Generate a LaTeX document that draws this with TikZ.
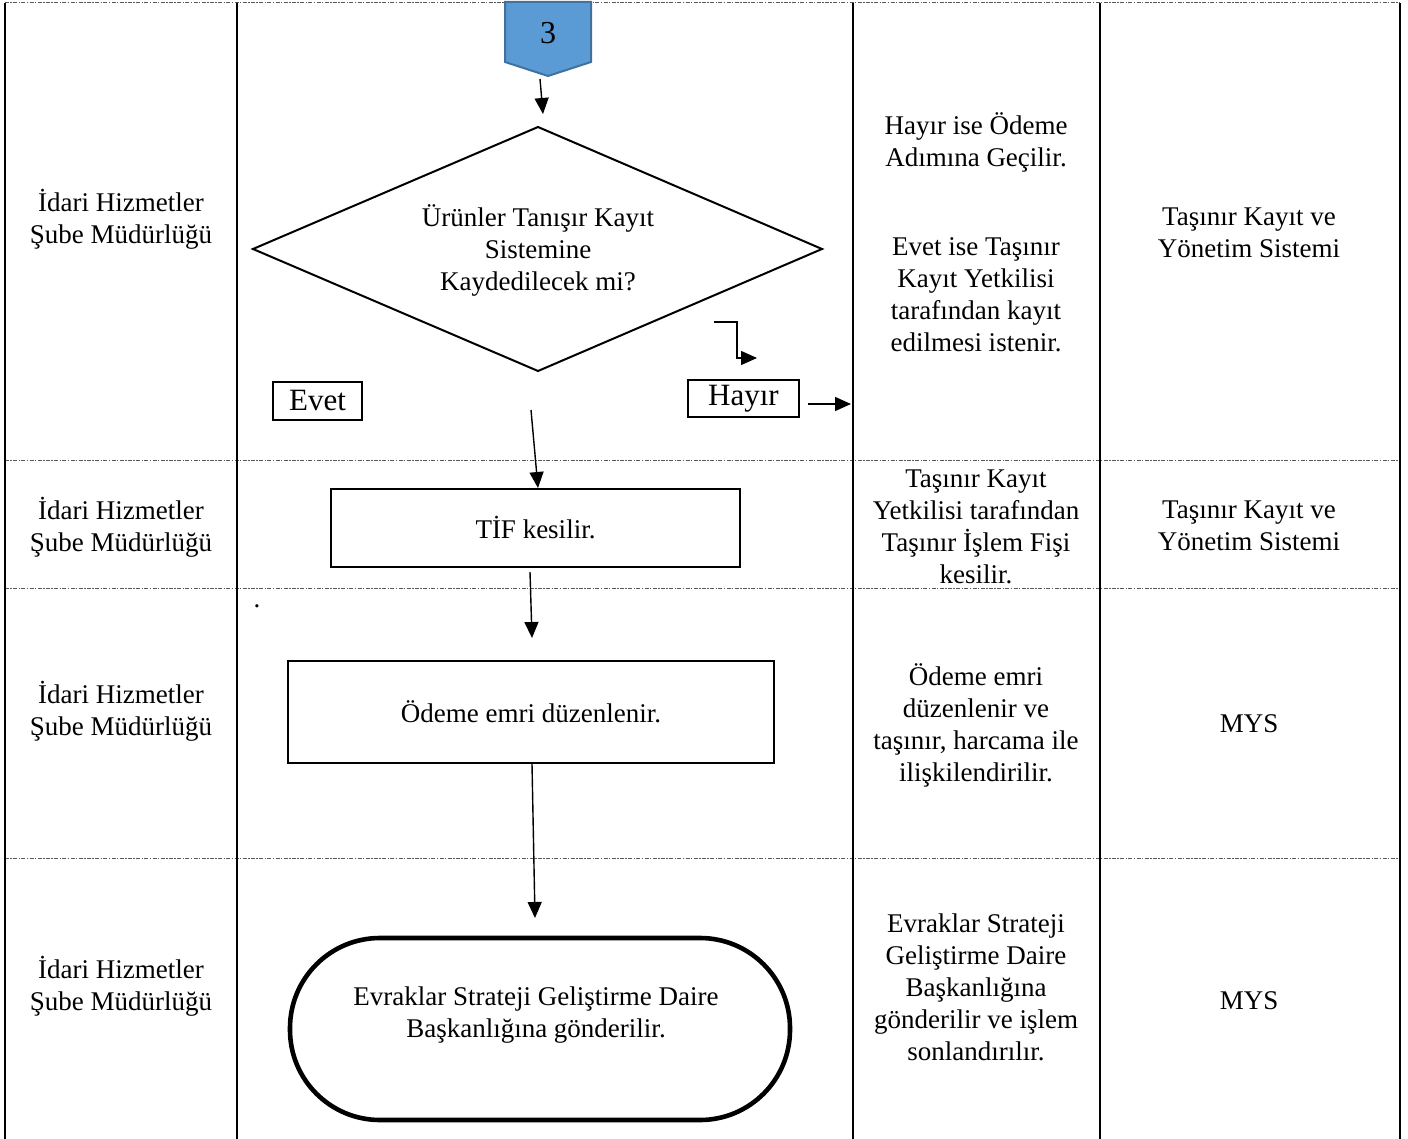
\documentclass[tikz,border=0pt]{standalone}
\usepackage{fontspec}
\setmainfont{Liberation Serif}
\usepackage{xcolor}
\usetikzlibrary{arrows.meta}
\usetikzlibrary{calc}

\definecolor{connfill}{HTML}{5B9BD5}
\definecolor{conndraw}{HTML}{41719C}

\tikzset{
  txt/.style={align=center,font=\fontsize{13.5}{16}\selectfont},
  box/.style={draw,line width=1pt,txt},
  lab/.style={draw,line width=1pt,inner sep=0pt,font=\fontsize{15.5}{18}\selectfont},
  flow/.style={line width=0.7pt,-{Triangle[length=8pt,width=7pt]}},
  sep/.style={gray!70!black,line width=0.5pt,dash pattern=on 2pt off 0.7pt on 0.7pt off 0.7pt},
  col/.style={line width=1pt}
}

\begin{document}
\begin{tikzpicture}[x=0.5pt,y=-0.5pt]
  \useasboundingbox (0,0) rectangle (1408,1139);

  % Table lines
  \foreach \y in {3,460,588,858}
    \draw[sep] (5,\y) -- (1400,\y);
  \foreach \x in {5,237,853,1100,1400}
    \draw[col] (\x,3) -- (\x,1139);

  % Off-page connector
  \draw[fill=connfill,draw=conndraw,line width=1pt]
    (505,2) -- (591,2) -- (591,62) -- (548,76) -- (505,62) -- cycle;
  \node[font=\fontsize{16}{18}\selectfont] (conn) at (548,33) {3};

  % Decision
  \coordinate (D1) at (538,127);
  \coordinate (D2) at (822,249);
  \coordinate (D3) at (538,371);
  \coordinate (D4) at (253,249);
  \draw[line width=1pt] (D1) -- (D2) -- (D3) -- (D4) -- cycle;
  \node[txt] (dec) at (538,250) {Ürünler Tanışır Kayıt\\Sistemine\\Kaydedilecek mi?};

  \node[lab,minimum width=44.5pt,minimum height=19pt] (evet) at (317.5,401) {Evet};
  \node[lab,minimum width=55.5pt,minimum height=18.5pt] (hayir) at (743.5,398.5) {Hayır};

  % Process boxes
  \node[box,minimum width=204.5pt,minimum height=39pt] (tif) at (535.5,528) {TİF kesilir.};
  \node[txt] (dot) at (257,606) {.};
  \node[box,minimum width=243pt,minimum height=51pt] (odeme) at (531,712) {Ödeme emri düzenlenir.};

  % Terminator
  \draw[line width=2.3pt,rounded corners=45pt] (290,938) rectangle (790,1120);
  \node[txt] (son) at (536,1015) {Evraklar Strateji Geliştirme Daire\\Başkanlığına gönderilir.};

  % Arrows
  \coordinate (a1) at (540,79);
  \coordinate (b1) at (543,114);
  \draw[flow] (a1) -- (b1);
  \coordinate (k1) at (714,322);
  \coordinate (k2) at (757,358);
  \draw[flow] (k1) -| (737,358) -- (k2);
  \coordinate (h1) at (808,404);
  \coordinate (h2) at (851,404);
  \draw[flow] (h1) -- (h2);
  \coordinate (a2) at (531,410);
  \draw[flow] (a2) -- (tif.north -| 538,0);
  \coordinate (a3) at (530,572);
  \coordinate (b3) at (532,638);
  \draw[flow] (a3) -- (b3);
  \coordinate (a4) at (532,764);
  \coordinate (b4) at (535,918);
  \draw[flow] (a4) -- (b4);

  % Units
  \node[txt] (u1) at (121,219) {İdari Hizmetler\\Şube Müdürlüğü};
  \node[txt] (u2) at (121,527) {İdari Hizmetler\\Şube Müdürlüğü};
  \node[txt] (u3) at (121,711) {İdari Hizmetler\\Şube Müdürlüğü};
  \node[txt] (u4) at (121,986) {İdari Hizmetler\\Şube Müdürlüğü};

  % Descriptions
  \node[txt] (d1a) at (976,142) {Hayır ise Ödeme\\Adımına Geçilir.};
  \node[txt] (d1b) at (976,295) {Evet ise Taşınır\\Kayıt Yetkilisi\\tarafından kayıt\\edilmesi istenir.};
  \node[txt] (d2) at (976,527) {Taşınır Kayıt\\Yetkilisi tarafından\\Taşınır İşlem Fişi\\kesilir.};
  \node[txt] (d3) at (976,725) {Ödeme emri\\düzenlenir ve\\taşınır, harcama ile\\ilişkilendirilir.};
  \node[txt] (d4) at (976,987) {Evraklar Strateji\\Geliştirme Daire\\Başkanlığına\\gönderilir ve işlem\\sonlandırılır.};

  % Systems
  \node[txt] (s1) at (1249,233) {Taşınır Kayıt ve\\Yönetim Sistemi};
  \node[txt] (s2) at (1249,526) {Taşınır Kayıt ve\\Yönetim Sistemi};
  \node[txt] (s3) at (1249,724) {MYS};
  \node[txt] (s4) at (1249,1001) {MYS};
\end{tikzpicture}
\end{document}
